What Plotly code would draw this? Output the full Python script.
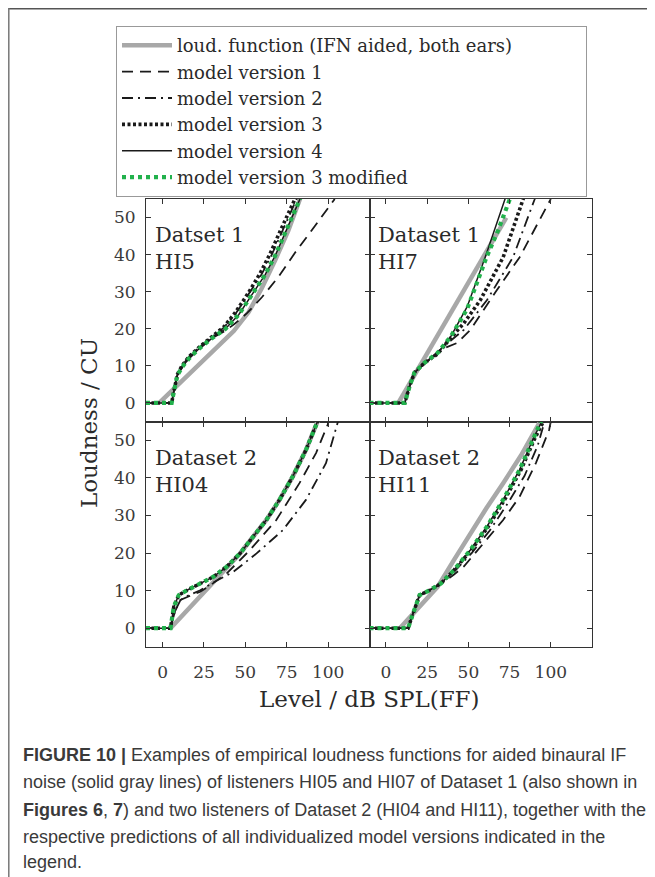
import plotly.graph_objects as go
from plotly.subplots import make_subplots

# ---------------- data ----------------
series_names = [
    "loud. function (IFN aided, both ears)",
    "model version 1",
    "model version 2",
    "model version 3",
    "model version 4",
    "model version 3 modified",
]
panel_labels = ["Datset 1<br>HI5", "Dataset 1<br>HI7", "Dataset 2<br>HI04", "Dataset 2<br>HI11"]
x_ticks = [0, 25, 50, 75, 100]
y_ticks = [0, 10, 20, 30, 40, 50]

# Panel 1: Dataset 1, HI5
hi5_gray_x = [-2, 9, 25, 43, 52, 60, 68, 76, 83]
hi5_gray_y = [0, 4.7, 11.5, 19.4, 24.5, 31, 38.5, 46.5, 55]
hi5_v1_x = [-10, 5.5, 7, 9, 12, 16, 22, 30, 38, 44, 51, 60, 70, 80, 90, 100, 104]
hi5_v1_y = [0, 0, 3.5, 7.5, 9.8, 12, 14.6, 17.5, 19.5, 21.5, 24.2, 28.5, 34, 40.5, 46.5, 52.5, 55]
hi5_v2_x = [-10, 5.5, 7, 9, 12, 16, 22, 30, 37, 44, 52, 60, 66, 72, 78, 82]
hi5_v2_y = [0, 0, 3.5, 7.8, 10.2, 12.5, 15, 17.8, 20.3, 24, 29.3, 34.8, 40, 46, 52, 56]
hi5_v3_x = [-10, 5.5, 7, 9, 12, 16, 22, 30, 37, 44, 52, 59, 65, 71, 77, 81]
hi5_v3_y = [0, 0, 3.5, 7.8, 10.2, 12.5, 15, 17.8, 20.5, 24.4, 29.8, 35, 40.3, 46.3, 52.3, 56]
hi5_v4_x = [-10, 5.5, 7, 9, 12, 16, 22, 30, 38, 46, 54, 62, 68, 74, 80, 84]
hi5_v4_y = [0, 0, 3.5, 7.5, 9.8, 12, 14.6, 17.5, 20, 23.8, 29.2, 34.6, 39.7, 45.8, 51.6, 56]
hi5_v3m_x = [-10, 5.5, 7, 9, 12, 16, 22, 30, 38, 46, 54, 62, 68, 74, 80, 84]
hi5_v3m_y = [0, 0, 3.5, 7.5, 9.8, 12, 14.6, 17.5, 20, 23.8, 29.2, 34.6, 39.7, 45.8, 51.6, 56]

# Panel 2: Dataset 1, HI7
hi7_gray_x = [7.5, 20, 40, 60, 73]
hi7_gray_y = [0, 9.5, 24.8, 40, 50]
hi7_v1_x = [-10, 11.4, 14.4, 17.3, 23.3, 28, 33.3, 43.3, 51.2, 67.2, 81.1, 98, 100]
hi7_v1_y = [0, 0, 4.6, 8.2, 10.5, 12.5, 14.4, 16.2, 19.7, 30.4, 39.3, 53, 55]
hi7_v2_x = [-10, 11.4, 14.4, 17.3, 23.3, 30, 35.2, 47.2, 61.2, 77.1, 90.1, 91]
hi7_v2_y = [0, 0, 4.6, 8.2, 10.6, 12.8, 15.3, 19.7, 27.7, 39.3, 54.8, 56]
hi7_v3_x = [-10, 11.4, 14.4, 17.3, 23.3, 31.3, 37.3, 47.2, 57.2, 71.1, 83.1, 84]
hi7_v3_y = [0, 0, 4.6, 8.2, 10.8, 13.2, 16.5, 21.5, 27.7, 39.3, 54.8, 56]
hi7_v4_x = [-10, 11.4, 14.4, 17.3, 23.3, 31.3, 39.3, 49.2, 60.2, 66, 72.1, 73]
hi7_v4_y = [0, 0, 4.6, 8.2, 10.8, 13.5, 17.9, 25.9, 39.3, 47, 54.8, 56]
hi7_v3m_x = [-10, 11.4, 14.4, 17.3, 23.3, 31.3, 39.3, 49.2, 61, 68, 75, 76]
hi7_v3m_y = [0, 0, 4.6, 8.2, 10.8, 13.5, 17.9, 25.3, 39.3, 46.5, 54.8, 56]

# Panel 3: Dataset 2, HI04
hi04_gray_x = [4.8, 20, 36.8, 46.8, 54.8, 62.7, 70.7, 78.7, 86.7, 93.7]
hi04_gray_y = [0, 7.3, 15.5, 19.9, 24.4, 28.8, 34.2, 40.4, 47.5, 55.1]
hi04_v1_x = [-10, 4.8, 7.5, 10.8, 16, 22.8, 30, 38.8, 52.8, 68.7, 82.7, 92.7, 99.7, 101]
hi04_v1_y = [0, 0, 4.5, 7.5, 8.5, 9.7, 11.8, 14.6, 20.8, 28.8, 38.6, 46.6, 54.1, 56]
hi04_v2_x = [-10, 4.8, 7.5, 10.8, 16, 22.8, 32, 42.8, 56.8, 72.7, 86.7, 98.7, 105.7, 107]
hi04_v2_y = [0, 0, 4.5, 7.5, 8.8, 10.1, 12.5, 15, 19.9, 26.1, 34.2, 43.9, 54.6, 56]
hi04_v3_x = [-10, 4.8, 6.8, 9.8, 14.8, 22.8, 30.8, 38.8, 46.8, 54.8, 62.7, 70.7, 78.7, 86.7, 93.7, 95]
hi04_v3_y = [0, 0, 5.7, 8.8, 10.1, 11.9, 13.7, 16.4, 19.9, 24.4, 28.8, 34.2, 40.4, 47.5, 55.1, 56.5]
hi04_v4_x = [-10, 4.8, 6.8, 9.8, 14.8, 22.8, 30.8, 38.8, 46.8, 54.8, 62.7, 70.7, 78.7, 86.7, 93.7, 95]
hi04_v4_y = [0, 0, 5.7, 8.8, 10.1, 11.9, 13.7, 16.4, 19.9, 24.4, 28.8, 34.2, 40.4, 47.5, 55.1, 56.5]
hi04_v3m_x = [-10, 4.8, 6.8, 9.8, 14.8, 22.8, 30.8, 38.8, 46.8, 54.8, 62.7, 70.7, 78.7, 86.7, 93.7, 95]
hi04_v3m_y = [0, 0, 5.7, 8.8, 10.1, 11.9, 13.7, 16.4, 19.9, 24.4, 28.8, 34.2, 40.4, 47.5, 55.1, 56.5]

# Panel 4: Dataset 2, HI11
hi11_gray_x = [8.4, 20, 31.3, 41, 51.2, 61, 71.1, 82, 93]
hi11_gray_y = [0, 5.5, 11, 18, 25.3, 32, 38.6, 46, 54.6]
hi11_v1_x = [-10, 13.4, 16.4, 20.4, 26.4, 33.3, 41.3, 47.2, 59.2, 71.1, 81.1, 91, 99, 100]
hi11_v1_y = [0, 0, 3.9, 8.8, 10.1, 11.7, 14.3, 16.4, 22.6, 28.8, 35, 44, 52.8, 55]
hi11_v2_x = [-10, 13.4, 16.4, 20.4, 26.4, 33.3, 41.3, 52, 63, 74, 84, 92, 96, 97]
hi11_v2_y = [0, 0, 3.9, 8.8, 10.1, 11.9, 15, 20, 26, 33.3, 40.5, 48.5, 54.6, 56]
hi11_v3_x = [-10, 13.4, 16.4, 20.4, 26.4, 33.3, 41.3, 51.8, 62, 72, 82, 90, 95, 96]
hi11_v3_y = [0, 0, 3.9, 8.8, 10.1, 11.9, 15.5, 20.8, 27, 34.2, 42.2, 50.2, 54.6, 56]
hi11_v4_x = [-10, 13.4, 16.4, 20.4, 26.4, 33.3, 41.3, 51.2, 61.2, 71.1, 81.1, 89.1, 94.1, 95]
hi11_v4_y = [0, 0, 3.9, 8.8, 10.1, 11.9, 15.5, 20.8, 27, 34.2, 42.2, 50.2, 54.6, 56]
hi11_v3m_x = [-10, 13.4, 16.4, 20.4, 26.4, 33.3, 41.3, 51.2, 61.2, 71.1, 81.1, 89.1, 93.8, 95]
hi11_v3m_y = [0, 0, 3.9, 8.8, 10.1, 11.9, 15.5, 20.8, 27, 34.2, 42.2, 50.2, 54.8, 56]

caption_lines = [
    "<b>FIGURE 10 |</b> Examples of empirical loudness functions for aided binaural IF",
    "noise (solid gray lines) of listeners HI05 and HI07 of Dataset 1 (also shown in",
    "<b>Figures 6</b>, <b>7</b>) and two listeners of Dataset 2 (HI04 and HI11), together with the",
    "respective predictions of all individualized model versions indicated in the",
    "legend.",
]

# ---------------- styling / layout ----------------
W, H = 655, 877
OFF = 8  # the page body adds an 8px margin; positions below are page pixels


def fx(p):
    return (p - OFF) / W


def fy(p):
    return 1 - (p - OFF) / H


SERIF = "DejaVu Serif"
SANS = "Liberation Sans"
INK = "#2a2a2a"
LEGEND_PAD = "&nbsp;" * 12  # widens the legend box to the reference's width

styles = [
    dict(color="#a8a8a8", width=4.5, dash="solid"),
    dict(color="#1a1a1a", width=1.8, dash="11px,7px"),
    dict(color="#1a1a1a", width=1.8, dash="11px,5px,2px,5px"),
    dict(color="#1a1a1a", width=3.6, dash="3px,2.5px"),
    dict(color="#1a1a1a", width=1.5, dash="solid"),
    dict(color="#22b14c", width=4.2, dash="4px,4px"),
]

panels = [
    [(hi5_gray_x, hi5_gray_y), (hi5_v1_x, hi5_v1_y), (hi5_v2_x, hi5_v2_y),
     (hi5_v3_x, hi5_v3_y), (hi5_v4_x, hi5_v4_y), (hi5_v3m_x, hi5_v3m_y)],
    [(hi7_gray_x, hi7_gray_y), (hi7_v1_x, hi7_v1_y), (hi7_v2_x, hi7_v2_y),
     (hi7_v3_x, hi7_v3_y), (hi7_v4_x, hi7_v4_y), (hi7_v3m_x, hi7_v3m_y)],
    [(hi04_gray_x, hi04_gray_y), (hi04_v1_x, hi04_v1_y), (hi04_v2_x, hi04_v2_y),
     (hi04_v3_x, hi04_v3_y), (hi04_v4_x, hi04_v4_y), (hi04_v3m_x, hi04_v3m_y)],
    [(hi11_gray_x, hi11_gray_y), (hi11_v1_x, hi11_v1_y), (hi11_v2_x, hi11_v2_y),
     (hi11_v3_x, hi11_v3_y), (hi11_v4_x, hi11_v4_y), (hi11_v3m_x, hi11_v3m_y)],
]
positions = [(1, 1), (1, 2), (2, 1), (2, 2)]

fig = make_subplots(rows=2, cols=2, horizontal_spacing=0, vertical_spacing=0)

for p, (curves, (r, c)) in enumerate(zip(panels, positions)):
    for s, (xs, ys) in enumerate(curves):
        nm = series_names[s] + (LEGEND_PAD if s == 0 else "")
        fig.add_trace(
            go.Scatter(x=xs, y=ys, mode="lines", name=nm,
                       line=styles[s], showlegend=(p == 0), legendrank=s + 1,
                       hoverinfo="skip"),
            row=r, col=c)

xl = [fx(146), fx(369.5)]
xr = [fx(369.5), fx(592)]
yt = [fy(421.5), fy(199)]
yb = [fy(647), fy(421.5)]
dom = {1: (xl, yt), 2: (xr, yt), 3: (xl, yb), 4: (xr, yb)}

axis_common = dict(ticks="inside", ticklen=5, tickcolor="#333", showline=True,
                   linecolor="#333", linewidth=1, mirror="ticks", showgrid=False,
                   zeroline=False, tickfont=dict(family=SERIF, size=17, color="#3a3a3a"))
for i in range(1, 5):
    xd, yd = dom[i]
    xk = "xaxis" if i == 1 else f"xaxis{i}"
    yk = "yaxis" if i == 1 else f"yaxis{i}"
    fig.layout[xk].update(domain=xd, range=[-10, 125], tickvals=x_ticks,
                          showticklabels=(i >= 3), ticklabelstandoff=10, **axis_common)
    fig.layout[yk].update(domain=yd, range=[-5, 55], tickvals=y_ticks,
                          showticklabels=(i in (1, 3)), ticklabelstandoff=6, **axis_common)

annotations = []
for i, lab in enumerate(panel_labels, start=1):
    xr_ = "x domain" if i == 1 else f"x{i} domain"
    yr_ = "y domain" if i == 1 else f"y{i} domain"
    annotations.append(dict(text=lab, xref=xr_, yref=yr_, x=0.03, y=0.9,
                            xanchor="left", yanchor="top", showarrow=False, align="left",
                            font=dict(family=SERIF, size=21, color=INK)))

annotations.append(dict(text="Level / dB SPL(FF)", xref="paper", yref="paper",
                        x=fx(369), y=fy(699), xanchor="center", yanchor="middle",
                        showarrow=False, font=dict(family=SERIF, size=23, color=INK)))
annotations.append(dict(text="Loudness / CU", xref="paper", yref="paper",
                        x=fx(89), y=fy(423), xanchor="center", yanchor="middle",
                        textangle=-90, showarrow=False,
                        font=dict(family=SERIF, size=23, color=INK)))

cap_y = [755, 782, 809.5, 836.5, 862]
for txt, yy in zip(caption_lines, cap_y):
    annotations.append(dict(text=txt, xref="paper", yref="paper", x=fx(21), y=fy(yy),
                            xanchor="left", yanchor="middle", showarrow=False,
                            font=dict(family=SANS, size=18, color="#3a3a3a")))

shapes = [
    dict(type="line", xref="paper", yref="paper", x0=0, x1=1, y0=fy(8.8), y1=fy(8.8),
         line=dict(color="#555", width=1.5)),
    dict(type="line", xref="paper", yref="paper", x0=fx(8.8), x1=fx(8.8), y0=fy(8), y1=0,
         line=dict(color="#777", width=1.5)),
]

fig.update_layout(
    width=W, height=H, margin=dict(l=0, r=0, t=0, b=0),
    paper_bgcolor="white", plot_bgcolor="white",
    annotations=annotations, shapes=shapes,
    legend=dict(x=fx(116), y=fy(26), xanchor="left", yanchor="top",
                bgcolor="white", bordercolor="#999", borderwidth=1,
                font=dict(family=SERIF, size=18, color=INK),
                itemwidth=50, tracegroupgap=0, traceorder="normal"),
)

fig.write_html("out.html")
